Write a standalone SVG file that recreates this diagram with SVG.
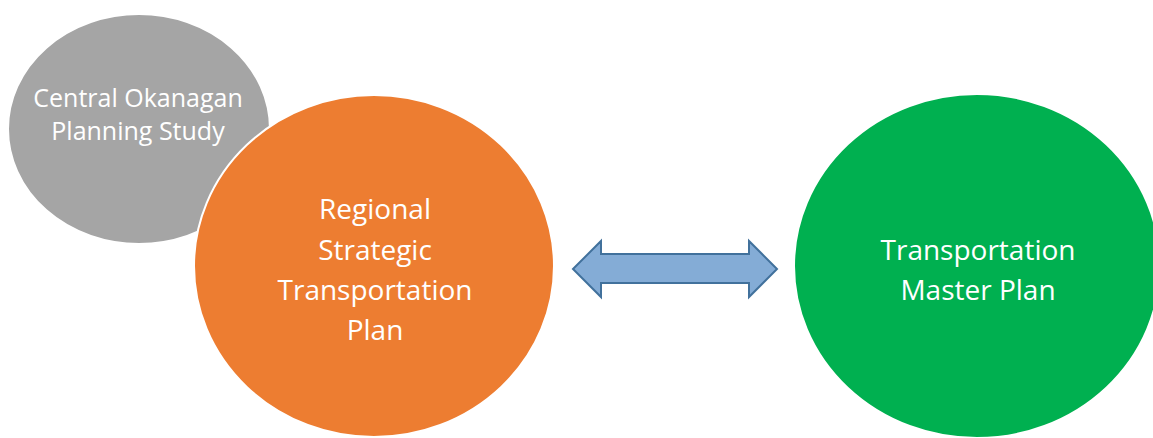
<svg xmlns="http://www.w3.org/2000/svg" width="1153" height="438" viewBox="0 0 1153 438">
<style>
.node{stroke:#ffffff;stroke-width:2}
.lbl{font-family:"Open Sans","Liberation Sans",sans-serif;fill:#ffffff;text-anchor:middle}
.big{font-size:28px}
.small{font-size:25px}
.arrow{fill:#84acd6;stroke:#41719c;stroke-width:2;stroke-linejoin:miter}
</style>
<rect width="1153" height="438" fill="#ffffff"/>
<g id="node-central-okanagan">
<ellipse class="node" cx="139" cy="129" rx="131" ry="115" fill="#a5a5a5"/>
<text class="lbl small" x="138" y="107">Central Okanagan</text>
<text class="lbl small" x="138" y="140">Planning Study</text>
</g>
<g id="node-rstp">
<ellipse class="node" cx="374" cy="266" rx="180" ry="171" fill="#ed7d31"/>
<text class="lbl big" x="375" y="219">Regional</text>
<text class="lbl big" x="375" y="260">Strategic</text>
<text class="lbl big" x="375" y="300">Transportation</text>
<text class="lbl big" x="375" y="340">Plan</text>
</g>
<g id="node-tmp">
<ellipse class="node" cx="977" cy="266" rx="183" ry="172" fill="#00b050"/>
<text class="lbl big" x="978" y="260">Transportation</text>
<text class="lbl big" x="978" y="300">Master Plan</text>
</g>
<g id="connectors">
<path class="arrow" d="M573,269 L601,241 L601,254 L749,254 L749,241 L777,269 L749,297 L749,283 L601,283 L601,297 Z"/>
</g>
</svg>
